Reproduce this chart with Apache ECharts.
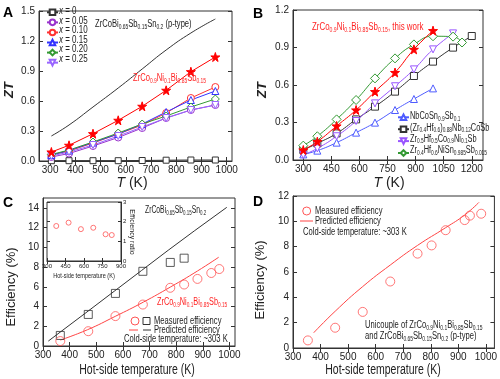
<!DOCTYPE html>
<html><head><meta charset="utf-8">
<script src="https://cdn.jsdelivr.net/npm/echarts@6/dist/echarts.min.js"></script>
<style>html,body{margin:0;padding:0;background:#fff}#c{width:500px;height:379px}</style>
</head><body><div id="c"></div><script>
// ---------- DATA ----------
// Panel A: ZT vs T
const aTemps=[305,375,470,570,665,760,858,955];
const aX0=[0.003,0.003,0.003,0.003,0.005,0.008,0.01,0.01];
const aX005=[0.04,0.075,0.15,0.235,0.33,0.43,0.51,0.56];
const aX010=[0.06,0.10,0.18,0.27,0.36,0.48,0.63,0.74];
const aX015=[0.06,0.105,0.185,0.27,0.37,0.49,0.61,0.70];
const aX020=[0.065,0.11,0.19,0.28,0.37,0.45,0.54,0.62];
const aX025=[0.05,0.09,0.16,0.25,0.34,0.43,0.51,0.56];
const aStar=[0.09,0.157,0.273,0.407,0.547,0.707,0.893,1.04];
const aPType=[0.25,0.36,0.54,0.73,0.92,1.11,1.28,1.42];
const aNames=['x = 0','x = 0.05','x = 0.10','x = 0.15','x = 0.20','x = 0.25'];
const aXTicks=[300,400,500,600,700,800,900,1000];
const aYTicks=[0,0.3,0.6,0.9,1.2,1.5];
// Panel B
const bTemps=[300,375,478,582,683,790,891,993,1100,1200];
const bGreenTemps=[300,375,478,582,683,790,891,993,1100,1148];
const bStar=[0.08,0.147,0.272,0.40,0.547,0.70,0.885,1.035];
const bNbCoSn=[0.045,0.075,0.139,0.219,0.299,0.40,0.488,0.573];
const bZrHfNb=[0.08,0.133,0.213,0.325,0.427,0.547,0.672,0.787,0.899,0.992];
const bZrHfCoNi=[0.04,0.093,0.19,0.312,0.453,0.59,0.725,0.885,1.013];
const bZrHfNiSn=[0.115,0.19,0.325,0.48,0.653,0.813,0.925,0.99,0.987,0.94];
const bNames=['NbCoSn0.9Sb0.1','(Zr0.4Hf0.6)0.88Nb0.12CoSb','Zr0.5Hf0.5Co0.9Ni0.1Sb','Zr0.4Hf0.6NiSn0.985Sb0.015'];
const bLabels=['NbCoSn[0.9]Sb[0.1]','(Zr[0.4]Hf[0.6])[0.88]Nb[0.12]CoSb','Zr[0.5]Hf[0.5]Co[0.9]Ni[0.1]Sb','Zr[0.4]Hf[0.6]NiSn[0.985]Sb[0.015]'];
const bXTicks=[300,450,600,750,900,1050,1200];
const bYTicks=[0,0.3,0.6,0.9,1.2];
// Panel C
const cPTemps=[365,470,572,675,778,830];
const cPMeas=[1.07,3.2,5.33,7.57,8.47,8.9];
const cNTemps=[365,470,572,675,778,830,880,932,962];
const cNMeas=[0.5,1.5,3.03,4.2,5.9,6.23,6.8,7.4,7.8];
const cPPredT=[320,470,570,670,770,870,990];
const cPPred=[0.5,3.55,5.6,7.65,9.7,11.7,14.05];
const cNPredT=[365,467,571,677,780,880,960];
const cNPred=[0.6,1.65,3.0,4.45,6.0,7.6,9.0];
const cXTicks=[300,400,500,600,700,800,900,1000];
const cYTicks=[0,2,4,6,8,10,12,14];
// Inset of C
const iTemps=[375,475,575,675,775,825];
const iRatio=[1.78,1.95,1.62,1.69,1.36,1.32];
const iXTicks=[300,450,600,750,900];
const iYTicks=[0,1,2,3];
// Panel D
const dTemps=[354,453,553,653,752,803,854,923,942,983];
const dMeas=[0.6,1.6,2.85,5.25,7.45,8.1,9.3,10.1,10.45,10.6];
const dPredT=[375,453,553,653,752,854,923,975];
const dPred=[1.2,2.9,4.85,6.55,8.1,9.5,10.5,11.5];
const dXTicks=[300,400,500,600,700,800,900,1000];
const dYTicks=[0,2,4,6,8,10,12];

// ---------- HELPERS ----------
const SF='"Liberation Sans",Arial,Helvetica,sans-serif';
const AX='#333';
const SQ=0.76; // horizontal squeeze of the reference text
function chem(str){return str.split(/(\[[^\]]*\])/).filter(t=>t).map(t=>t[0]==='['?'{s|'+t.slice(1,-1)+'}':'{n|'+t+'}').join('');}
function gRich(color,fs,sfs){return{
  n:{fill:color,fontSize:fs,fontFamily:SF,verticalAlign:'top',lineHeight:fs+1},
  s:{fill:color,fontSize:sfs,fontFamily:SF,verticalAlign:'bottom',padding:[4,0,0,0],lineHeight:sfs+1},
  i:{fill:color,fontSize:fs,fontFamily:SF,fontStyle:'italic',verticalAlign:'top',lineHeight:fs+1}};}
function gtext(x,y,text,o){o=o||{};return{type:'text',x:x,y:y,rotation:o.rot||0,scaleX:o.sx||1,z:100,silent:true,
  style:{text:text,fill:o.color||'#222',fontSize:o.fs||10,fontFamily:SF,fontStyle:o.fst||'normal',fontWeight:o.fw||'normal',
  align:o.align||'left',verticalAlign:'middle',rich:o.rich}};}
const intFmt=v=>String(Math.round(v));
function bx(gi,min,max,vals,fs,fmt){return{type:'value',gridIndex:gi,min:min,max:max,position:'bottom',
  axisLine:{show:true,onZero:false,lineStyle:{color:AX}},axisTick:{inside:true,length:fs?3:4,customValues:vals,lineStyle:{color:AX}},
  axisLabel:{customValues:vals,fontSize:fs||10,color:'#222',fontFamily:SF,margin:fs?2:4,formatter:fmt||intFmt},splitLine:{show:false}};}
function tx(gi,min,max,vals,len){return{type:'value',gridIndex:gi,min:min,max:max,position:'top',
  axisLine:{show:false},axisTick:{inside:true,length:len||4,customValues:vals,lineStyle:{color:AX}},axisLabel:{show:false},splitLine:{show:false}};}
function ly(gi,min,max,vals,fmt,fs,pos){return{type:'value',gridIndex:gi,min:min,max:max,position:pos||'left',
  axisLine:{show:true,onZero:false,lineStyle:{color:AX}},axisTick:{inside:true,length:fs?3:4,customValues:vals,lineStyle:{color:AX}},
  axisLabel:{customValues:vals,fontSize:fs||10,color:'#222',fontFamily:SF,margin:fs?2:4,formatter:fmt||intFmt},splitLine:{show:false}};}
function ry(gi,min,max,vals,pos,len){return{type:'value',gridIndex:gi,min:min,max:max,position:pos||'right',
  axisLine:{show:false},axisTick:{inside:true,length:len||4,customValues:vals,lineStyle:{color:AX}},axisLabel:{show:false},splitLine:{show:false}};}
const pair=(xs,ys)=>ys.map((y,i)=>[xs[i],y]);
const STAR='path://M50,0L61,35L98,35L68,57L79,91L50,70L21,91L32,57L2,35L39,35Z';
const DIAM='path://M5,0L10,5L5,10L0,5Z';
function ln(name,ax,xs,ys,color,symbol,o){o=o||{};return{type:'line',name:name,xAxisIndex:ax,yAxisIndex:ax,
  data:pair(xs,ys),symbol:symbol,symbolSize:o.size||7,symbolRotate:o.rot||0,smooth:o.smooth||false,
  lineStyle:{color:color,width:1},itemStyle:{color:o.fill||'#fff',borderColor:color,borderWidth:1},
  emphasis:{disabled:true},animation:false,z:o.z||2};}
function sc(ax,xs,ys,color,symbol,size){return{type:'scatter',xAxisIndex:ax,yAxisIndex:ax,data:pair(xs,ys),symbol:symbol,symbolSize:size,
  itemStyle:{color:'rgba(0,0,0,0)',borderColor:color,borderWidth:1},emphasis:{disabled:true},z:5};}

// legend keys (library legend, text drawn separately so it can be squeezed like the reference)
const aLegTop=8.5, aLegStep=9.47, bLegTop=113.5, bLegStep=11.3;
function legendKeys(names,left,top,step){return{data:names,orient:'vertical',left:left,top:top,itemWidth:11,itemHeight:7,
  itemGap:step-7,padding:0,selectedMode:false,textStyle:{fontSize:6,lineHeight:7},formatter:()=>''};}

const f1=v=>v.toFixed(1);
const graphics=[
    // panel letters
    gtext(3,13,'A',{fs:14,fw:'bold',color:'#000'}),
    gtext(253,14,'B',{fs:14,fw:'bold',color:'#000'}),
    gtext(3,203,'C',{fs:14,fw:'bold',color:'#000'}),
    gtext(253,202,'D',{fs:14,fw:'bold',color:'#000'}),
    // axis titles
    gtext(9,90,'ZT',{fs:13,fst:'italic',fw:'bold',rot:Math.PI/2,align:'center'}),
    gtext(132,183,'{i|T}{n| (K)}',{align:'center',rich:{i:{fontSize:14,fontStyle:'italic',fontFamily:SF,fill:'#222'},n:{fontSize:14,fontFamily:SF,fill:'#222'}}}),
    gtext(262,90,'ZT',{fs:13,fst:'italic',fw:'bold',rot:Math.PI/2,align:'center'}),
    gtext(389,183,'{i|T}{n| (K)}',{align:'center',rich:{i:{fontSize:14,fontStyle:'italic',fontFamily:SF,fill:'#222'},n:{fontSize:14,fontFamily:SF,fill:'#222'}}}),
    gtext(11,287,'Efficiency (%)',{fs:13,rot:Math.PI/2,align:'center'}),
    gtext(137,370,'Hot-side temperature (K)',{fs:14,align:'center',sx:0.75}),
    gtext(260,280,'Efficiency (%)',{fs:13,rot:Math.PI/2,align:'center'}),
    gtext(383,370,'Hot-side temperature (K)',{fs:14,align:'center',sx:0.75}),
    // panel A labels
    gtext(95,25,chem('ZrCoBi[0.65]Sb[0.15]Sn[0.2] (p-type)'),{rich:gRich('#222',10,6.5),sx:SQ}),
    gtext(133,79,chem('ZrCo[0.9]Ni[0.1]Bi[0.85]Sb[0.15]'),{rich:gRich('#ff2222',10,6.5),sx:SQ}),
    // panel B label
    gtext(312,28,chem('ZrCo[0.9]Ni[0.1]Bi[0.85]Sb[0.15], this work'),{rich:gRich('#ff2222',10,6.5),sx:0.79}),
    // panel C labels
    gtext(145,211,chem('ZrCoBi[0.65]Sb[0.15]Sn[0.2]'),{rich:gRich('#222',10,6.5),sx:0.68}),
    gtext(157,303,chem('ZrCo[0.9]Ni[0.1]Bi[0.85]Sb[0.15]'),{rich:gRich('#ff2222',10,6.5),sx:0.73}),
    {type:'circle',shape:{cx:135,cy:321,r:4},style:{fill:'none',stroke:'#ff5555',lineWidth:1},z:100},
    {type:'rect',shape:{x:143,y:317.5,width:7,height:7},style:{fill:'none',stroke:'#333',lineWidth:1},z:100},
    gtext(154,321,'Measured efficiency',{fs:10,sx:SQ}),
    {type:'line',shape:{x1:129,y1:330,x2:138,y2:330},style:{stroke:'#ff4444',lineWidth:1},z:100},
    {type:'line',shape:{x1:143,y1:330,x2:151,y2:330},style:{stroke:'#333',lineWidth:1},z:100},
    gtext(154,330,'Predicted efficiency',{fs:10,sx:SQ}),
    gtext(124,339,'Cold-side temperature: ~303 K',{fs:10,sx:SQ}),
    // inset labels
    gtext(84,276,'Hot-side temperature (K)',{fs:7,align:'center',sx:0.8}),
    gtext(132,232,'Efficiency ratio',{fs:7,align:'center',rot:-Math.PI/2}),
    // panel D labels
    {type:'circle',shape:{cx:306.7,cy:211,r:4},style:{fill:'none',stroke:'#ff5555',lineWidth:1},z:100},
    gtext(315,211,'Measured efficiency',{fs:10,sx:SQ}),
    {type:'line',shape:{x1:300,y1:221,x2:313,y2:221},style:{stroke:'#ff4444',lineWidth:1},z:100},
    gtext(315,221,'Predicted efficiency',{fs:10,sx:SQ}),
    gtext(303,232,'Cold-side temperature: ~303 K',{fs:10,sx:SQ}),
    gtext(365,326,chem('Unicouple of ZrCo[0.9]Ni[0.1]Bi[0.85]Sb[0.15]'),{rich:gRich('#222',10,6.5),sx:SQ}),
    gtext(365,337,chem('and ZrCoBi[0.65]Sb[0.15]Sn[0.2] (p-type)'),{rich:gRich('#222',10,6.5),sx:SQ})
];
// legend texts
aNames.forEach((n,i)=>graphics.push(gtext(59,aLegTop+3.5+i*aLegStep,'{i|x}{n|'+n.slice(1)+'}',{rich:gRich('#222',10,6.5),sx:0.8})));
bLabels.forEach((n,i)=>graphics.push(gtext(410,bLegTop+3.5+i*bLegStep,chem(n),{rich:gRich('#222',10,6.5),sx:0.74})));

const option={
  animation:false,
  grid:[
    {left:39,top:11,width:193,height:150},
    {left:293,top:10,width:190,height:150},
    {left:43,top:198,width:192,height:148},
    {left:293,top:196,width:203,height:152},
    {left:47,top:202,width:74,height:59,backgroundColor:'#fff'}
  ].map(g=>Object.assign({show:true,borderColor:AX,borderWidth:1},g)),
  xAxis:[
    bx(0,256,1021,aXTicks),
    bx(1,245,1260,bXTicks),
    bx(2,300,1021,cXTicks),
    bx(3,300,1031,dXTicks),
    bx(4,300,900,iXTicks,6),
    tx(0,256,1021,aXTicks),tx(1,245,1260,bXTicks),tx(2,300,1021,cXTicks),tx(3,300,1031,dXTicks),tx(4,300,900,iXTicks,3)
  ],
  yAxis:[
    ly(0,0,1.5,aYTicks,f1),
    ly(1,0,1.2,bYTicks,f1),
    ly(2,0,15,cYTicks),
    ly(3,0,12,dYTicks),
    ly(4,0,3,iYTicks,null,6,'right'),
    ry(0,0,1.5,aYTicks),ry(1,0,1.2,bYTicks),ry(2,0,15,cYTicks),ry(3,0,12,dYTicks),ry(4,0,3,iYTicks,'left',3)
  ],
  legend:[legendKeys(aNames,46,aLegTop,aLegStep),legendKeys(bNames,397,bLegTop,bLegStep)],
  series:[
    // A
    ln('p-type A',0,aTemps,aPType,'#333','none',{smooth:true}),
    ln(aNames[0],0,aTemps,aX0,'#333','rect',{size:6}),
    ln(aNames[1],0,aTemps,aX005,'#9933cc','circle'),
    ln(aNames[2],0,aTemps,aX010,'#ff3333','circle'),
    ln(aNames[3],0,aTemps,aX015,'#3333ff','triangle'),
    ln(aNames[4],0,aTemps,aX020,'#339933',DIAM,{size:8}),
    ln(aNames[5],0,aTemps,aX025,'#9966ff','triangle',{rot:180}),
    ln('starA',0,aTemps,aStar,'#ff0000',STAR,{size:9,fill:'#ff0000',z:3}),
    // B
    ln(bNames[0],1,bTemps,bNbCoSn,'#4f5cff','triangle',{smooth:true}),
    ln(bNames[1],1,bTemps,bZrHfNb,'#333','rect',{smooth:true,size:7}),
    ln(bNames[2],1,bTemps,bZrHfCoNi,'#9955ff','triangle',{smooth:true,rot:180}),
    ln(bNames[3],1,bGreenTemps,bZrHfNiSn,'#339933',DIAM,{smooth:true,size:9}),
    ln('starB',1,bTemps,bStar,'#ff0000',STAR,{size:9,fill:'#ff0000',smooth:true,z:3}),
    // C
    ln('pPredC',2,cPPredT,cPPred,'#333','none'),
    ln('nPredC',2,cNPredT,cNPred,'#ff4444','none',{smooth:true}),
    sc(2,cPTemps,cPMeas,'#333','rect',8),
    sc(2,cNTemps,cNMeas,'#ff5555','circle',9),
    // D
    ln('predD',3,dPredT,dPred,'#ff4444','none',{smooth:true}),
    sc(3,dTemps,dMeas,'#ff5555','circle',9),
    // inset
    sc(4,iTemps,iRatio,'#ff5555','circle',5)
  ],
  graphic:graphics
};
const chart=echarts.init(document.getElementById('c'),null,{renderer:'canvas'});
chart.setOption(option);
</script></body></html>
